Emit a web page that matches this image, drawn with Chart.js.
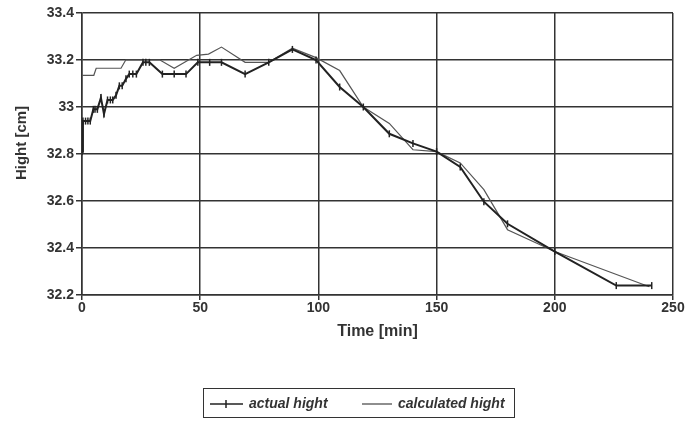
<!DOCTYPE html>
<html>
<head>
<meta charset="utf-8">
<script src="https://cdn.jsdelivr.net/npm/chart.js@4.4.1/dist/chart.umd.min.js"></script>
<style>
  html, body { margin: 0; padding: 0; background: #fff; }
  #wrap { position: relative; width: 689px; height: 421px; overflow: hidden; }
  #legenda {
    position: absolute; left: 203px; top: 388px; width: 312px; height: 30px;
    border: 1px solid #333; box-sizing: border-box;
    font: italic bold 14px 'Liberation Sans', Arial, sans-serif; color: #333;
  }
  #legenda .item { position: absolute; top: 6px; white-space: nowrap; }
  #legenda svg { vertical-align: middle; margin-right: 6px; }
</style>
</head>
<body>
<div id="wrap">
  <canvas id="grafico" width="689" height="421"></canvas>
  <div id="legenda">
    <span class="item" style="left:6px">
      <svg width="33" height="10"><line x1="0" y1="5" x2="33" y2="5" stroke="#222" stroke-width="1.5"/><line x1="16" y1="1" x2="16" y2="9" stroke="#222" stroke-width="1.5"/></svg>actual hight
    </span>
    <span class="item" style="left:158px">
      <svg width="30" height="10"><line x1="0" y1="5" x2="30" y2="5" stroke="#444" stroke-width="1.2"/></svg>calculated hight
    </span>
  </div>
</div>
<script>
// medições (tempo em min, altura em cm)
const actualTime = [0, 0.4, 1.5, 2.5, 3.5, 4.8, 5.5, 6.5, 8, 9.3, 10.8, 12, 13, 14.4, 15.8, 17, 18.6, 20, 21.5, 23,
  25.8, 27, 28.5, 34, 39, 44, 49, 54, 59, 69, 79, 89, 99, 109, 119, 130, 140, 150, 160, 170, 180, 200, 226, 241];
const actualHight = [32.81, 32.94, 32.94, 32.94, 32.94, 32.99, 32.99, 32.99, 33.04, 32.97, 33.03, 33.03, 33.03, 33.05, 33.09, 33.09, 33.12, 33.14, 33.14, 33.14,
  33.19, 33.19, 33.19, 33.14, 33.14, 33.14, 33.19, 33.19, 33.19, 33.14, 33.19, 33.245, 33.2, 33.085, 33.0, 32.886, 32.845, 32.81, 32.745, 32.597, 32.503, 32.385, 32.24, 32.24];

// modelo calculado
const calcTime = [0, 5, 6, 16.5, 18.5, 33, 39, 48.5, 53.5, 59, 69, 79, 89, 99, 109, 119, 130, 140, 150, 160, 170, 180, 200, 240];
const calcHight = [33.135, 33.135, 33.165, 33.165, 33.2, 33.2, 33.165, 33.22, 33.225, 33.255, 33.19, 33.19, 33.25, 33.21, 33.155, 33.0, 32.93, 32.818, 32.81, 32.762, 32.648, 32.478, 32.385, 32.235];

const xTicks = [0, 50, 100, 150, 200, 250];
const yTicks = [32.2, 32.4, 32.6, 32.8, 33, 33.2, 33.4];

const fonte = "'Liberation Sans', Arial, sans-serif";
const corEixo = '#333';

function pares(xs, ys) {
  return xs.map((x, i) => ({ x: x, y: ys[i] }));
}

// título do eixo y desenhado à mão para acertar a posição
const tituloY = {
  id: 'tituloY',
  afterDraw(chart) {
    const ctx = chart.ctx;
    ctx.save();
    ctx.translate(22, 143);
    ctx.rotate(-Math.PI / 2);
    ctx.font = 'bold 15px ' + fonte;
    ctx.fillStyle = corEixo;
    ctx.textAlign = 'center';
    ctx.textBaseline = 'middle';
    ctx.fillText('Hight [cm]', 0, 0);
    ctx.restore();
  }
};

function createChart() {
  const ctx = document.getElementById('grafico').getContext('2d');
  new Chart(ctx, {
    type: 'line',
    data: {
      datasets: [{
        label: 'actual hight',
        data: pares(actualTime, actualHight),
        borderColor: '#222',
        borderWidth: 2,
        pointStyle: 'line',
        rotation: 90,
        pointRadius: 3.5,
        pointBorderWidth: 1.5,
        pointBorderColor: '#222',
        tension: 0
      }, {
        label: 'calculated hight',
        data: pares(calcTime, calcHight),
        borderColor: '#555',
        borderWidth: 1.2,
        pointRadius: 0,
        tension: 0
      }]
    },
    options: {
      responsive: false,
      animation: false,
      layout: { padding: { left: 0, right: 16, top: 13, bottom: 80 } },
      plugins: { legend: { display: false }, tooltip: { enabled: false } },
      scales: {
        x: {
          type: 'linear',
          min: 0,
          max: 250,
          afterBuildTicks: (s) => { s.ticks = xTicks.map(v => ({ value: v })); },
          afterFit: (s) => { s.height = 46; },
          grid: { color: corEixo, lineWidth: 1.5, tickLength: 5, tickColor: corEixo },
          border: { color: corEixo, width: 1.5 },
          ticks: { color: corEixo, padding: 0, maxRotation: 0, font: { family: fonte, size: 14, weight: 'bold' } },
          title: {
            display: true, text: 'Time [min]', color: corEixo,
            font: { family: fonte, size: 16, weight: 'bold' }, padding: { top: 0, bottom: 0 }
          }
        },
        y: {
          min: 32.2,
          max: 33.4,
          afterBuildTicks: (s) => { s.ticks = yTicks.map(v => ({ value: v })); },
          afterFit: (s) => { s.width = 82; },
          grid: { color: corEixo, lineWidth: 1.5, tickLength: 6, tickColor: corEixo },
          border: { color: corEixo, width: 1.5 },
          ticks: {
            color: corEixo, padding: 2,
            font: { family: fonte, size: 14, weight: 'bold' },
            callback: (v) => String(Number(v.toFixed(1)))
          }
        }
      }
    },
    plugins: [tituloY]
  });
}

createChart();
</script>
</body>
</html>
